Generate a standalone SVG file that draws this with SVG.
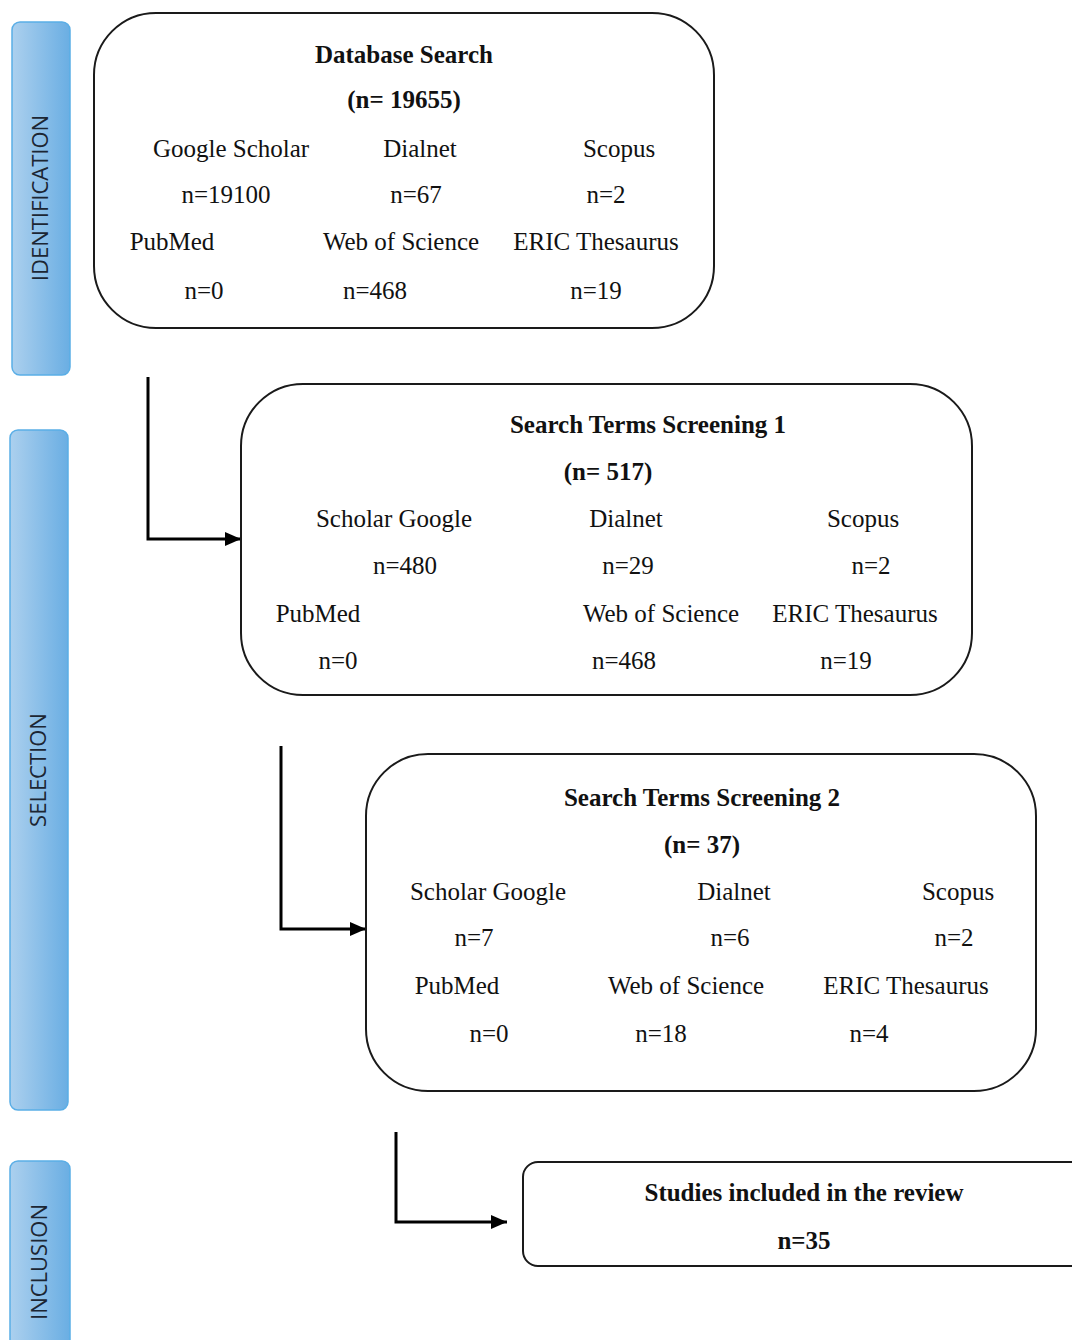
<svg xmlns="http://www.w3.org/2000/svg" width="1072" height="1340" viewBox="0 0 1072 1340">
<style>
.box{fill:#fff;stroke:#1a1a1a;stroke-width:2}
.t{font-family:"Liberation Serif","Times New Roman",serif;font-size:25px;fill:#111;text-anchor:middle}
.b{font-weight:bold}
.bar{stroke:#5aaee6;stroke-width:1.5;fill:url(#g)}
.side{font-family:"Open Sans","DejaVu Sans",sans-serif;font-size:22px;fill:#1c2633;text-anchor:middle}
.c{fill:none;stroke:#000;stroke-width:3}
</style>
<defs>
<linearGradient id="g" x1="0" y1="0" x2="1" y2="0">
<stop offset="0" stop-color="#acd0ee"/>
<stop offset="1" stop-color="#6aaee3"/>
</linearGradient>
<marker id="ah" markerWidth="16" markerHeight="14" refX="16" refY="7" orient="auto" markerUnits="userSpaceOnUse" viewBox="0 0 16 14">
<path d="M0,0 L16,7 L0,14 z" fill="#000"/>
</marker>
</defs>
<rect width="1072" height="1340" fill="#fff"/>
<g id="stage-identification">
<rect class="bar" x="12" y="22" width="58" height="353" rx="8"/>
<text class="side" transform="translate(48,198) rotate(-90)">IDENTIFICATION</text>
</g>
<g id="stage-selection">
<rect class="bar" x="10" y="430" width="58" height="680" rx="8"/>
<text class="side" transform="translate(46,770) rotate(-90)">SELECTION</text>
</g>
<g id="stage-inclusion">
<rect class="bar" x="10" y="1161" width="60" height="200" rx="8"/>
<text class="side" transform="translate(47,1262) rotate(-90)">INCLUSION</text>
</g>
<g id="connectors">
<path class="c" d="M148,377 V539 H241" marker-end="url(#ah)"/>
<path class="c" d="M281,746 V929 H366" marker-end="url(#ah)"/>
<path class="c" d="M396,1132 V1222 H507" marker-end="url(#ah)"/>
</g>
<g id="database-search">
<rect class="box" x="94" y="13" width="620" height="315" rx="62"/>
<text class="t b" x="404" y="63">Database Search</text>
<text class="t b" x="404" y="108">(n= 19655)</text>
<text class="t" x="231" y="157">Google Scholar</text>
<text class="t" x="420" y="157">Dialnet</text>
<text class="t" x="619" y="157">Scopus</text>
<text class="t" x="226" y="203">n=19100</text>
<text class="t" x="416" y="203">n=67</text>
<text class="t" x="606" y="203">n=2</text>
<text class="t" x="172" y="250">PubMed</text>
<text class="t" x="401" y="250">Web of Science</text>
<text class="t" x="596" y="250">ERIC Thesaurus</text>
<text class="t" x="204" y="299">n=0</text>
<text class="t" x="375" y="299">n=468</text>
<text class="t" x="596" y="299">n=19</text>
</g>
<g id="screening-1">
<rect class="box" x="241" y="384" width="731" height="311" rx="62"/>
<text class="t b" x="648" y="433">Search Terms Screening 1</text>
<text class="t b" x="608" y="480">(n= 517)</text>
<text class="t" x="394" y="527">Scholar Google</text>
<text class="t" x="626" y="527">Dialnet</text>
<text class="t" x="863" y="527">Scopus</text>
<text class="t" x="405" y="574">n=480</text>
<text class="t" x="628" y="574">n=29</text>
<text class="t" x="871" y="574">n=2</text>
<text class="t" x="318" y="622">PubMed</text>
<text class="t" x="661" y="622">Web of Science</text>
<text class="t" x="855" y="622">ERIC Thesaurus</text>
<text class="t" x="338" y="669">n=0</text>
<text class="t" x="624" y="669">n=468</text>
<text class="t" x="846" y="669">n=19</text>
</g>
<g id="screening-2">
<rect class="box" x="366" y="754" width="670" height="337" rx="62"/>
<text class="t b" x="702" y="806">Search Terms Screening 2</text>
<text class="t b" x="702" y="853">(n= 37)</text>
<text class="t" x="488" y="900">Scholar Google</text>
<text class="t" x="734" y="900">Dialnet</text>
<text class="t" x="958" y="900">Scopus</text>
<text class="t" x="474" y="946">n=7</text>
<text class="t" x="730" y="946">n=6</text>
<text class="t" x="954" y="946">n=2</text>
<text class="t" x="457" y="994">PubMed</text>
<text class="t" x="686" y="994">Web of Science</text>
<text class="t" x="906" y="994">ERIC Thesaurus</text>
<text class="t" x="489" y="1042">n=0</text>
<text class="t" x="661" y="1042">n=18</text>
<text class="t" x="869" y="1042">n=4</text>
</g>
<g id="included">
<rect class="box" x="523" y="1162" width="570" height="104" rx="15"/>
<text class="t b" x="804" y="1201">Studies included in the review</text>
<text class="t b" x="804" y="1249">n=35</text>
</g>
</svg>
